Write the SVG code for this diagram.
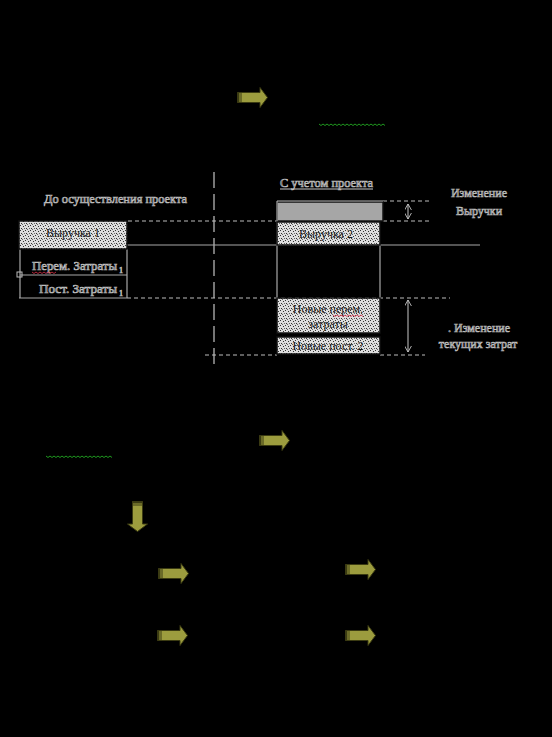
<svg xmlns="http://www.w3.org/2000/svg" width="552" height="737" viewBox="0 0 552 737">
<defs>
<pattern id="dots" width="5" height="5" patternUnits="userSpaceOnUse">
<rect width="5" height="5" fill="#dedede"/>
<rect x="0" y="0" width="1" height="1" fill="#333"/>
<rect x="3" y="1" width="1" height="1" fill="#333"/>
<rect x="1" y="3" width="1" height="1" fill="#333"/>
<rect x="4" y="3" width="1" height="1" fill="#666"/>
<rect x="2" y="4" width="1" height="1" fill="#666"/>
</pattern>
<symbol id="arr" viewBox="0 0 31 21" overflow="visible">
<path d="M0.5,5.5 H23 V0.5 L30.5,10.5 L23,20.5 V15.5 H0.5 Z" fill="#9c9c3e" stroke="#3b3b12" stroke-width="1"/>
<rect x="0.5" y="5.5" width="2" height="10" fill="#3b3b12"/>
<rect x="3.5" y="5.5" width="1" height="10" fill="#3b3b12"/>
</symbol>
<marker id="oa" viewBox="0 0 8 8" refX="7" refY="4" markerWidth="7" markerHeight="7" orient="auto-start-reverse" markerUnits="userSpaceOnUse">
<path d="M0,0 L7,4 L0,8" fill="none" stroke="#c8c8c8" stroke-width="1"/>
</marker>
</defs>
<style>
.t{font-family:"Liberation Serif","Times New Roman",serif;font-size:12px;fill:#1c1c1c;stroke:#bdbdbd;stroke-width:0.7px;}
.ti{font-family:"Liberation Serif","Times New Roman",serif;font-size:12px;fill:#1a1a1a;}
.sub{font-size:8px;}
.ln{stroke:#a8a8a8;stroke-width:1.2;fill:none;}
.dl{stroke:#bcbcbc;stroke-width:1;fill:none;stroke-dasharray:4 3;}
.cd{stroke:#c4c4c4;stroke-width:1.2;fill:none;stroke-dasharray:16 6;}
.wr{stroke:#e0304a;stroke-width:0.8;fill:none;}
.wg{stroke:#1f9a1f;stroke-width:1;fill:none;}
.box{fill:url(#dots);stroke:#111;stroke-width:1.5;}
</style>
<rect width="552" height="737" fill="#000"/>

<g id="connectors">
<line class="cd" x1="214" y1="172" x2="214" y2="370"/>
<line class="dl" x1="128" y1="221" x2="277" y2="221"/>
<line class="ln" x1="127" y1="245" x2="480" y2="245"/>
<line class="ln" x1="20" y1="249" x2="20" y2="298"/>
<line class="ln" x1="127" y1="249" x2="127" y2="298"/>
<line class="ln" x1="20" y1="275" x2="127" y2="275"/>
<line class="ln" x1="19" y1="298" x2="127" y2="298"/>
<line class="dl" x1="127" y1="298" x2="450" y2="298"/>
<line class="dl" x1="205" y1="355" x2="277" y2="355"/>
<line class="dl" x1="380" y1="355" x2="425" y2="355"/>
<line class="ln" x1="277" y1="245" x2="277" y2="298"/>
<line class="ln" x1="380" y1="245" x2="380" y2="298"/>
<line class="dl" x1="383" y1="201" x2="430" y2="201"/>
<line class="dl" x1="383" y1="221" x2="430" y2="221"/>
<line x1="408" y1="204" x2="408" y2="219" stroke="#c8c8c8" stroke-width="1" marker-start="url(#oa)" marker-end="url(#oa)"/>
<line x1="408" y1="300" x2="408" y2="352" stroke="#c8c8c8" stroke-width="1" marker-start="url(#oa)" marker-end="url(#oa)"/>
</g>

<g id="before-label">
<text class="t" x="44" y="203" textLength="143" lengthAdjust="spacingAndGlyphs">До осуществления проекта</text>
</g>

<g id="revenue1">
<rect class="box" x="19" y="221" width="108" height="28" stroke="#bbb" stroke-width="1"/>
<text class="ti" x="73" y="237" text-anchor="middle">Выручка 1</text>
</g>

<g id="var-costs1">
<rect x="17" y="272" width="5" height="5" fill="none" stroke="#bbb" stroke-width="1"/>
<text class="t" x="32" y="270" textLength="85" lengthAdjust="spacingAndGlyphs">Перем. Затраты</text>
<text class="t sub" x="119" y="273">1</text>
<path class="wr" d="M32,272 l2,1.5 l2,-1.5 l2,1.5 l2,-1.5 l2,1.5 l2,-1.5 l2,1.5 l2,-1.5 l2,1.5 l2,-1.5 l2,1.5 l2,-1.5"/>
</g>

<g id="fixed-costs1">
<text class="t" x="39" y="293" textLength="78" lengthAdjust="spacingAndGlyphs">Пост. Затраты</text>
<text class="t sub" x="119" y="296">1</text>
</g>

<g id="with-project-label">
<text class="t" x="280" y="187" textLength="93" lengthAdjust="spacingAndGlyphs">С учетом проекта</text>
<line x1="280" y1="189" x2="373" y2="189" stroke="#c8c8c8" stroke-width="1"/>
</g>

<g id="revenue-increase">
<rect x="277" y="202" width="106" height="19" fill="#a6a6a6" stroke="#111" stroke-width="1.5"/>
<line x1="277" y1="201" x2="383" y2="201" stroke="#bbb" stroke-width="1"/>
<line x1="277" y1="201" x2="277" y2="245" stroke="#bbb" stroke-width="1"/>
</g>

<g id="revenue2">
<rect class="box" x="277" y="222" width="103" height="23" stroke="none"/>
<text class="ti" x="326" y="238" text-anchor="middle">Выручка 2</text>
</g>

<g id="revenue-change-label">
<text class="t" x="479" y="197" text-anchor="middle">Изменение</text>
<text class="t" x="479" y="215" text-anchor="middle">Выручки</text>
</g>

<g id="new-var-costs">
<rect class="box" x="277" y="298" width="103" height="35"/>
<text class="ti" x="328" y="313" text-anchor="middle">Новые перем.</text>
<path class="wr" d="M333,315 l2,1.5 l2,-1.5 l2,1.5 l2,-1.5 l2,1.5 l2,-1.5 l2,1.5 l2,-1.5 l2,1.5 l2,-1.5 l2,1.5 l2,-1.5 l2,1.5 l2,-1.5 l2,1.5"/>
<text class="ti" x="328" y="328" text-anchor="middle">затраты</text>
</g>

<g id="new-fixed-costs">
<rect class="box" x="277" y="337" width="103" height="17"/>
<text class="ti" x="328" y="350" text-anchor="middle">Новые пост. 2</text>
</g>

<g id="cost-change-label">
<text class="t" x="448" y="332">. Изменение</text>
<text class="t" x="478" y="348" text-anchor="middle">текущих затрат</text>
</g>

<g id="arrows">
<use href="#arr" x="237" y="87" width="31" height="21"/>
<use href="#arr" x="259" y="430" width="31" height="21"/>
<use href="#arr" width="31" height="21" transform="translate(148,501) rotate(90)"/>
<use href="#arr" x="158" y="563" width="31" height="21"/>
<use href="#arr" x="345" y="559" width="31" height="21"/>
<use href="#arr" x="157" y="625" width="31" height="21"/>
<use href="#arr" x="345" y="625" width="31" height="21"/>
</g>

<g id="spell-marks">
<path class="wg" d="M319,124 l2,1.5 l2,-1.5 l2,1.5 l2,-1.5 l2,1.5 l2,-1.5 l2,1.5 l2,-1.5 l2,1.5 l2,-1.5 l2,1.5 l2,-1.5 l2,1.5 l2,-1.5 l2,1.5 l2,-1.5 l2,1.5 l2,-1.5 l2,1.5 l2,-1.5 l2,1.5 l2,-1.5 l2,1.5 l2,-1.5 l2,1.5 l2,-1.5 l2,1.5 l2,-1.5 l2,1.5 l2,-1.5 l2,1.5 l2,-1.5 l2,1.5"/>
<path class="wg" d="M46,456 l2,1.5 l2,-1.5 l2,1.5 l2,-1.5 l2,1.5 l2,-1.5 l2,1.5 l2,-1.5 l2,1.5 l2,-1.5 l2,1.5 l2,-1.5 l2,1.5 l2,-1.5 l2,1.5 l2,-1.5 l2,1.5 l2,-1.5 l2,1.5 l2,-1.5 l2,1.5 l2,-1.5 l2,1.5 l2,-1.5 l2,1.5 l2,-1.5 l2,1.5 l2,-1.5 l2,1.5 l2,-1.5 l2,1.5 l2,-1.5 l2,1.5"/>
</g>
</svg>
